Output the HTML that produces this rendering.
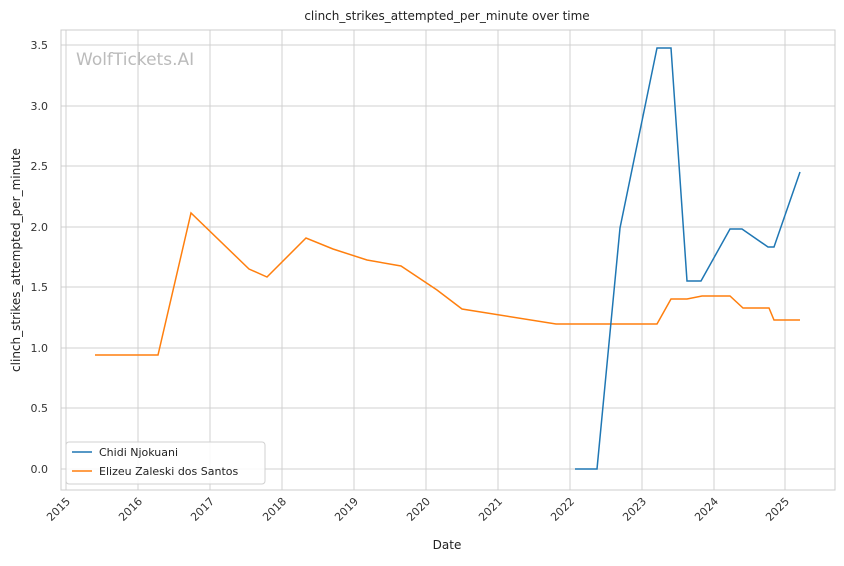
<!DOCTYPE html><html><head><meta charset="utf-8"><style>body{margin:0;background:#fff}svg{font-family:"DejaVu Sans","Liberation Sans",sans-serif}</style></head><body>
<svg width="844" height="561" viewBox="0 0 844 561">
<rect width="844" height="561" fill="#fff"/>
<g stroke="#d0d0d0" stroke-width="1">
<line x1="66" y1="30" x2="66" y2="490"/><line x1="138" y1="30" x2="138" y2="490"/><line x1="210" y1="30" x2="210" y2="490"/><line x1="282" y1="30" x2="282" y2="490"/><line x1="354" y1="30" x2="354" y2="490"/><line x1="426" y1="30" x2="426" y2="490"/><line x1="498" y1="30" x2="498" y2="490"/><line x1="570" y1="30" x2="570" y2="490"/><line x1="642" y1="30" x2="642" y2="490"/><line x1="714" y1="30" x2="714" y2="490"/><line x1="785" y1="30" x2="785" y2="490"/>
<line x1="61" y1="45" x2="835" y2="45"/><line x1="61" y1="106" x2="835" y2="106"/><line x1="61" y1="166" x2="835" y2="166"/><line x1="61" y1="227" x2="835" y2="227"/><line x1="61" y1="287" x2="835" y2="287"/><line x1="61" y1="348" x2="835" y2="348"/><line x1="61" y1="408" x2="835" y2="408"/><line x1="61" y1="469" x2="835" y2="469"/>
</g>
<rect x="61" y="30" width="774" height="460" fill="none" stroke="#cccccc"/>
<text x="76" y="65" font-size="17" fill="#bbbbbb">WolfTickets.AI</text>
<polyline fill="none" stroke="#ff7f0e" stroke-width="1.5" points="95,355 158,355 191,213 249,269 267,277 306,238 333,249 367,260 401,266 437,290 462,309 556,324 657,324 671,299 687,299 702,296 730,296 743,308 769,308 774,320 800,320"/>
<polyline fill="none" stroke="#1f77b4" stroke-width="1.5" points="575,469 597,469 620,228 657,48 671,48 687,281 701,281 730,229 742,229 768,247 774,247 800,172"/>
<text x="447" y="20" font-size="12" text-anchor="middle" fill="#222">clinch_strikes_attempted_per_minute over time</text>
<g font-size="11" fill="#333" text-anchor="end">
<text x="48" y="49">3.5</text><text x="48" y="110">3.0</text><text x="48" y="170">2.5</text><text x="48" y="231">2.0</text><text x="48" y="291">1.5</text><text x="48" y="352">1.0</text><text x="48" y="412">0.5</text><text x="48" y="473">0.0</text>
</g>
<g font-size="11" fill="#333" text-anchor="end">
<text transform="translate(71,502) rotate(-45)">2015</text><text transform="translate(143,502) rotate(-45)">2016</text><text transform="translate(215,502) rotate(-45)">2017</text><text transform="translate(287,502) rotate(-45)">2018</text><text transform="translate(359,502) rotate(-45)">2019</text><text transform="translate(431,502) rotate(-45)">2020</text><text transform="translate(503,502) rotate(-45)">2021</text><text transform="translate(575,502) rotate(-45)">2022</text><text transform="translate(647,502) rotate(-45)">2023</text><text transform="translate(719,502) rotate(-45)">2024</text><text transform="translate(790,502) rotate(-45)">2025</text>
</g>
<text x="447" y="549" font-size="12" text-anchor="middle" fill="#222">Date</text>
<text transform="translate(20,260) rotate(-90)" font-size="12" text-anchor="middle" fill="#222">clinch_strikes_attempted_per_minute</text>
<rect x="66" y="442" width="199" height="42" rx="3" fill="#fff" fill-opacity="0.85" stroke="#d0d0d0"/>
<line x1="72" y1="452" x2="92" y2="452" stroke="#1f77b4" stroke-width="1.5"/>
<line x1="72" y1="471" x2="92" y2="471" stroke="#ff7f0e" stroke-width="1.5"/>
<text x="99" y="456" font-size="11" fill="#222">Chidi Njokuani</text>
<text x="99" y="475" font-size="11" fill="#222">Elizeu Zaleski dos Santos</text>
</svg></body></html>
